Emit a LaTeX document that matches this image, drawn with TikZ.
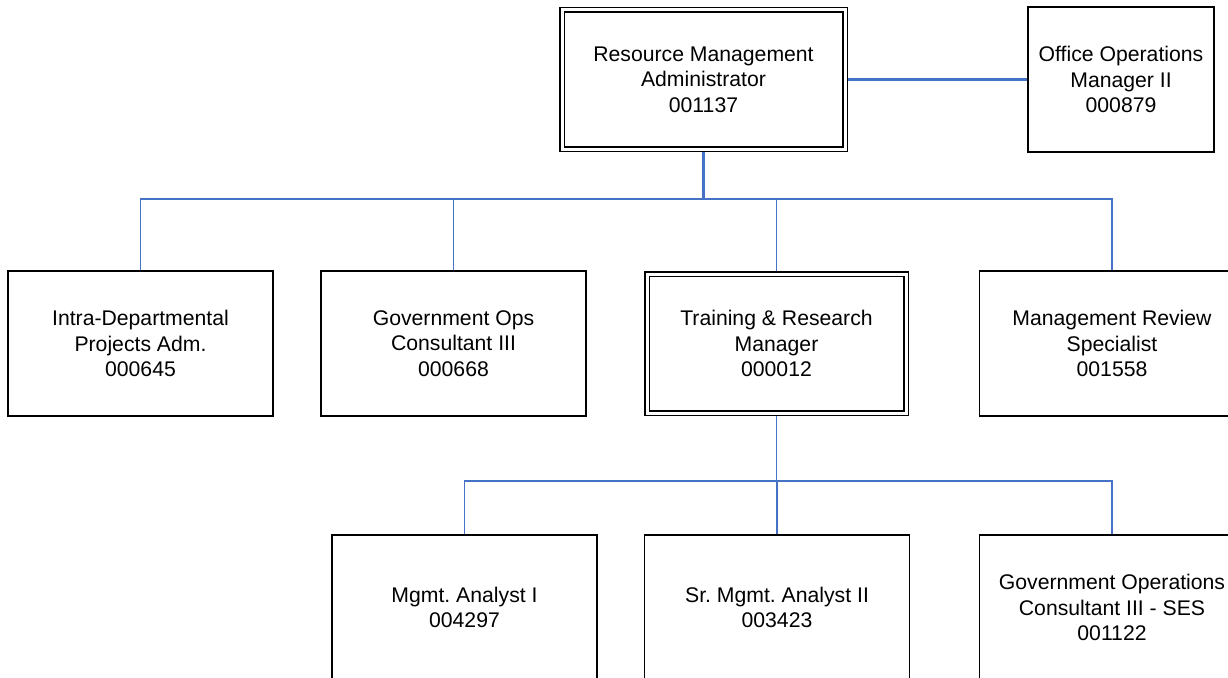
\documentclass[tikz,border=0pt]{standalone}
\usepackage{fontspec}
\setmainfont{Liberation Sans}
\usetikzlibrary{backgrounds}
\definecolor{linkblue}{HTML}{4472C4}
\begin{document}
\frenchspacing
\begin{tikzpicture}[x=1pt,y=-1pt,
  every node/.style={font=\fontsize{21.2}{25.5}\selectfont, align=center, inner sep=0pt, outer sep=0pt},
  post/.style={draw=black, line width=1.1pt, fill=white, minimum width=265pt, minimum height=145pt},
  headpost/.style={draw=black, line width=1.5pt, double=white, double distance=3pt, fill=white},
  link/.style={draw=linkblue, line width=1.7pt},
  mainlink/.style={draw=linkblue, line width=2.8pt}]
\useasboundingbox (0,0) rectangle (1228,677);

% top level
\node[headpost, minimum width=283pt, minimum height=139pt] (top) at (703.5,79.5)
  {Resource Management\\Administrator\\001137};
\node[post, minimum width=186pt] (office) at (1121,79.5)
  {Office Operations\\Manager II\\000879};

% second level
\node[post] (n1) at (140.5,343.5) {Intra-Departmental\\Projects Adm.\\000645};
\node[post] (n2) at (453.5,343.5) {Government Ops\\Consultant III\\000668};
\node[headpost, minimum width=259pt, minimum height=139pt] (n3) at (776.5,343.5)
  {Training \& Research\\Manager\\000012};
\node[post] (n4) at (1112,343.5) {Management Review\\Specialist\\001558};

% third level
\node[post] (m1) at (464.5,607.5) {Mgmt. Analyst I\\004297};
\node[post] (m2) at (777,607.5) {Sr. Mgmt. Analyst II\\003423};
\node[post] (m3) at (1112,607.5) {Government Operations\\Consultant III - SES\\001122};

\coordinate (busA) at (703.5,199);
\coordinate (busB) at (776.5,481);

\begin{scope}[on background layer]
  \draw[mainlink] (top.east) -- (office.west);
  \draw[mainlink] (top.south) -- (busA);
  \draw[link] (n1.north) |- (busA) -| (n4.north);
  \draw[link] (n2.north) |- (busA);
  \draw[link] (n3.north) |- (busA);
  \draw[link] (n3.south) -- (busB);
  \draw[link] (m1.north) |- (busB) -| (m3.north);
  \draw[link] (m2.north) |- (busB);
\end{scope}
\end{tikzpicture}
\end{document}
